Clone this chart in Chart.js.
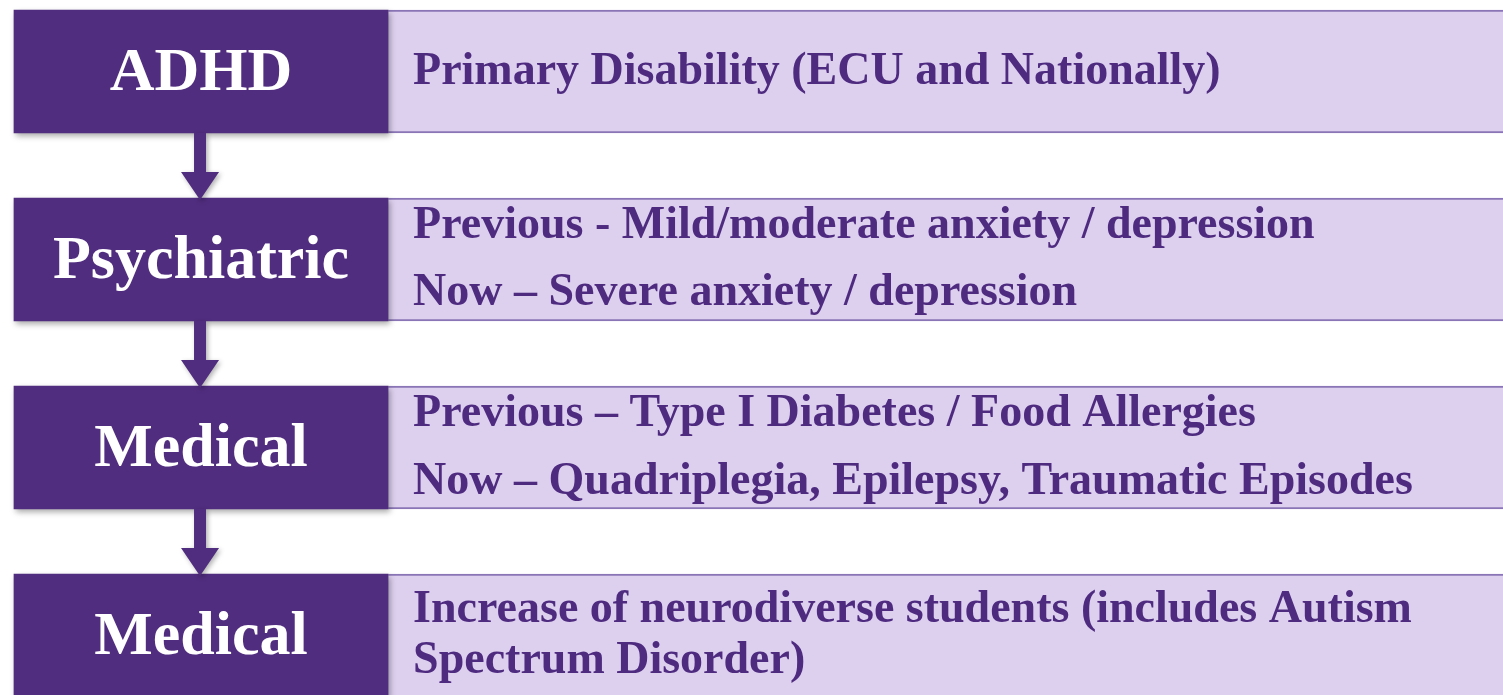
<!DOCTYPE html>
<html>
<head>
<meta charset="utf-8">
<script src="https://cdn.jsdelivr.net/npm/chart.js@4"></script>
<style>
  html, body { margin: 0; padding: 0; background: #fff; overflow: hidden; }
  #wrap { width: 1503px; height: 695px; }
</style>
</head>
<body>
<div id="wrap"><canvas id="flow" width="1503" height="695"></canvas></div>
<script>
// rows of the flow, top to bottom
const stages = ['ADHD', 'Psychiatric', 'Medical', 'Medical'];
const details = [
  ['Primary Disability (ECU and Nationally)'],
  ['Previous - Mild/moderate anxiety / depression', 'Now \u2013 Severe anxiety / depression'],
  ['Previous \u2013 Type I Diabetes / Food Allergies', 'Now \u2013 Quadriplegia, Epilepsy, Traumatic Episodes'],
  ['Increase of neurodiverse students (includes Autism', 'Spectrum Disorder)']
];
const rowIndex = [0, 1, 2, 3];
const labelSpan = [0.93, 25.82];   // dark box, % of width
const detailSpan = [25.82, 100];   // light box, % of width

const DARK = '#512d7f';
const LIGHT = '#ddd0ef';

// baseline offsets of the detail lines from the row centre (px)
const lineOffsets = [[12.5], [-21.5, 45.5], [-21.5, 46.5], [-13.5, 37.5]];

const shadowPlugin = {
  id: 'boxShadow',
  beforeDatasetDraw(chart, args) {
    if (args.index !== 0) return;
    const ctx = chart.ctx;
    ctx.save();
    ctx.shadowColor = 'rgba(0,0,0,0.35)';
    ctx.shadowBlur = 6;
    ctx.shadowOffsetX = 2;
    ctx.shadowOffsetY = 3;
  },
  afterDatasetDraw(chart, args) {
    if (args.index !== 0) return;
    chart.ctx.restore();
  }
};

const flowPlugin = {
  id: 'flowText',
  afterDatasetsDraw(chart) {
    const ctx = chart.ctx;
    const darkBars = chart.getDatasetMeta(0).data;
    const lightBars = chart.getDatasetMeta(1).data;

    // arrows between the dark boxes
    ctx.save();
    ctx.fillStyle = DARK;
    ctx.shadowColor = 'rgba(0,0,0,0.3)';
    ctx.shadowBlur = 5;
    ctx.shadowOffsetX = 2;
    ctx.shadowOffsetY = 2;
    for (let i = 0; i < darkBars.length - 1; i++) {
      const a = darkBars[i].getProps(['x', 'base', 'y', 'height'], true);
      const b = darkBars[i + 1].getProps(['x', 'base', 'y', 'height'], true);
      const cx = (a.x + a.base) / 2 - 1;
      const top = a.y + a.height / 2;
      const tip = b.y - b.height / 2 + 2;
      const headTop = tip - 28;
      ctx.beginPath();
      ctx.moveTo(cx - 6, top);
      ctx.lineTo(cx + 6, top);
      ctx.lineTo(cx + 6, headTop);
      ctx.lineTo(cx + 19, headTop);
      ctx.lineTo(cx, tip);
      ctx.lineTo(cx - 19, headTop);
      ctx.lineTo(cx - 6, headTop);
      ctx.closePath();
      ctx.fill();
    }
    ctx.restore();

    ctx.save();
    // stage labels
    ctx.fillStyle = '#ffffff';
    ctx.font = 'bold 62px "Liberation Serif", "Times New Roman", serif';
    ctx.textAlign = 'center';
    ctx.textBaseline = 'alphabetic';
    darkBars.forEach((bar, i) => {
      const p = bar.getProps(['x', 'base', 'y'], true);
      ctx.fillText(stages[i], (p.x + p.base) / 2, p.y + 18.5);
    });

    // detail lines
    ctx.fillStyle = '#4f2b80';
    ctx.font = 'bold 46px "Liberation Serif", "Times New Roman", serif';
    ctx.textAlign = 'left';
    lightBars.forEach((bar, i) => {
      const p = bar.getProps(['x', 'base', 'y'], true);
      details[i].forEach((line, j) => {
        ctx.fillText(line, p.base + 25, p.y + lineOffsets[i][j]);
      });
    });
    ctx.restore();
  }
};

new Chart(document.getElementById('flow').getContext('2d'), {
  type: 'bar',
  data: {
    datasets: [
      {
        label: 'Stage',
        data: rowIndex.map(r => ({ y: r, x: labelSpan })),
        backgroundColor: DARK,
        borderWidth: 0,
        barThickness: 123,
        grouped: false,
        order: 1
      },
      {
        label: 'Detail',
        data: rowIndex.map(r => ({ y: r, x: detailSpan })),
        backgroundColor: LIGHT,
        borderColor: '#8a76b6',
        borderWidth: { top: 2, bottom: 2, left: 0, right: 0 },
        borderSkipped: false,
        barThickness: 123,
        grouped: false,
        order: 2
      }
    ]
  },
  options: {
    indexAxis: 'y',
    responsive: false,
    animation: false,
    layout: { padding: 0 },
    scales: {
      x: { type: 'linear', min: 0, max: 100, display: false },
      y: { type: 'linear', min: -0.3803, max: 3.3165, reverse: true, offset: false, display: false }
    },
    plugins: {
      legend: { display: false },
      tooltip: { enabled: false }
    }
  },
  plugins: [shadowPlugin, flowPlugin]
});
</script>
</body>
</html>
